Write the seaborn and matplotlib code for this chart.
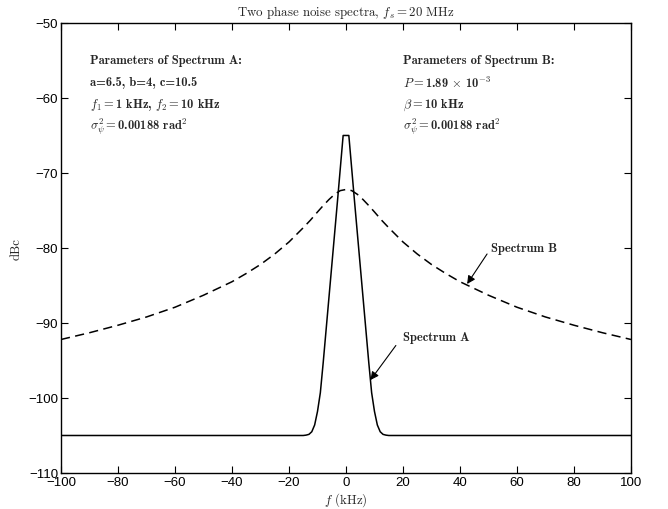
import numpy as np
import pandas as pd
import matplotlib
matplotlib.use('Agg')
import matplotlib.pyplot as plt
import seaborn as sns

sns.set_style('ticks')
plt.rcParams['font.family'] = ['Liberation Sans', 'DejaVu Sans']
plt.rcParams['mathtext.fontset'] = 'cm'

# Spectrum A (solid)
freq_a = [-100, -16, -15, -14, -13, -12, -11, -10, -9, -8, -7, -6, -5, -4, -3, -2, -1,
          1, 2, 3, 4, 5, 6, 7, 8, 9, 10, 11, 12, 13, 14, 15, 16, 100]
dbc_a = [-105, -105, -105, -104.95, -104.85, -104.5, -103.6, -101.8, -99.3, -95.3, -91.0,
         -86.7, -82.4, -78.1, -73.8, -69.4, -65.0,
         -65.0, -69.4, -73.8, -78.1, -82.4, -86.7, -91.0, -95.3, -99.3, -101.8, -103.6,
         -104.5, -104.85, -104.95, -105, -105, -105]

# Spectrum B (dashed)
freq_b = [-100, -90, -80, -70, -60, -50, -40, -35, -30, -25, -20, -15, -12.5, -10, -8, -6,
          -4, -2, 0, 2, 4, 6, 8, 10, 12.5, 15, 20, 25, 30, 35, 40, 50, 60, 70, 80, 90, 100]
dbc_b = [-92.2, -91.3, -90.3, -89.2, -87.9, -86.3, -84.5, -83.4, -82.2, -80.8, -79.2,
         -77.3, -76.3, -75.2, -74.35, -73.55, -72.85, -72.35, -72.2, -72.35, -72.85,
         -73.55, -74.35, -75.2, -76.3, -77.3, -79.2, -80.8, -82.2, -83.4, -84.5, -86.3,
         -87.9, -89.2, -90.3, -91.3, -92.2]

params_a = ['Parameters of Spectrum A:',
            'a=6.5, b=4, c=10.5',
            r'$f_1 = $1 kHz, $f_2 = $10 kHz',
            r'$\sigma^2_\psi = $0.00188 rad$^{\mathbf{2}}$']
params_b = ['Parameters of Spectrum B:',
            r'$P = $1.89 $\times$ 10$^{\mathbf{-3}}$',
            r'$\beta = $10 kHz',
            r'$\sigma^2_\psi = $0.00188 rad$^{\mathbf{2}}$']

df_a = pd.DataFrame({'f': freq_a, 'dBc': dbc_a})
df_b = pd.DataFrame({'f': freq_b, 'dBc': dbc_b})

fig = plt.figure(figsize=(6.68, 5.10), dpi=100)
ax = fig.add_axes([0.0913, 0.0706, 0.8533, 0.8824])

sns.lineplot(data=df_a, x='f', y='dBc', ax=ax, color='black', lw=1.1, estimator=None)
sns.lineplot(data=df_b, x='f', y='dBc', ax=ax, color='black', lw=1.1, estimator=None,
             linestyle=(0, (6, 3.5)))

ax.set_xlim(-100, 100)
ax.set_ylim(-110, -50)
ax.set_xticks(np.arange(-100, 101, 20))
ax.set_yticks(np.arange(-110, -49, 10))
ax.tick_params(direction='in', length=5, width=0.8, top=True, right=True,
               labelsize=9.5, colors='black', pad=2)
for s in ax.spines.values():
    s.set_visible(True)
    s.set_linewidth(1.0)
    s.set_color('black')

ax.set_title(r'Two phase noise spectra, $f_s = 20$ MHz', fontsize=9.3, pad=6,
             family='cmr10')
ax.set_xlabel(r'$f$ (kHz)', fontsize=9.3, labelpad=2, family='cmr10')
ax.set_ylabel('dBc', fontsize=9.3, labelpad=4, family='cmr10')

for i, t in enumerate(params_a):
    ax.text(-89.8, -55.0 - i * 2.93, t, fontsize=9, va='center', ha='left', family='cmb10')
for i, t in enumerate(params_b):
    ax.text(20.0, -55.0 - i * 2.93, t, fontsize=9, va='center', ha='left', family='cmb10')

ax.text(50.8, -80.0, 'Spectrum B', fontsize=9, va='center', ha='left', family='cmb10')
ax.annotate('', xy=(42.5, -84.8), xytext=(49.5, -80.8),
            arrowprops=dict(arrowstyle='-|>', color='black', lw=0.8,
                            mutation_scale=12, shrinkA=0, shrinkB=0))
ax.text(20.0, -91.9, 'Spectrum A', fontsize=9, va='center', ha='left', family='cmb10')
ax.annotate('', xy=(8.6, -97.6), xytext=(17.5, -93.0),
            arrowprops=dict(arrowstyle='-|>', color='black', lw=0.8,
                            mutation_scale=12, shrinkA=0, shrinkB=0))

fig.savefig('out.png', dpi=100)
